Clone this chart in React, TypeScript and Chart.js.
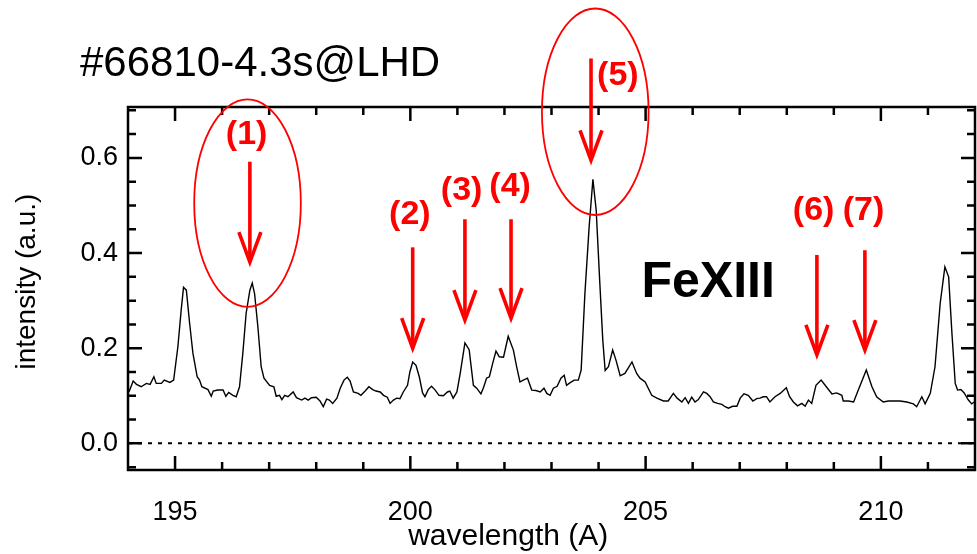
import React, { useEffect, useRef } from "react";
import { Chart, registerables } from "chart.js";

Chart.register(...registerables);

const FONT = "'Liberation Sans', Arial, Helvetica, sans-serif";

const wavelength = [
  194.02, 194.11, 194.18, 194.28, 194.39, 194.47, 194.55, 194.6, 194.71, 194.77, 194.89, 194.97,
  195.06, 195.13, 195.18, 195.24, 195.31, 195.38, 195.47, 195.52, 195.57, 195.7, 195.77, 195.81,
  195.91, 196.02, 196.08, 196.14, 196.23, 196.3, 196.37, 196.44, 196.51, 196.59, 196.64, 196.69,
  196.76, 196.83, 196.89, 197.01, 197.1, 197.15, 197.22, 197.27, 197.33, 197.4, 197.51, 197.58,
  197.69, 197.76, 197.83, 197.9, 198.0, 198.08, 198.15, 198.22, 198.28, 198.35, 198.44, 198.51,
  198.59, 198.66, 198.72, 198.79, 198.89, 198.95, 199.04, 199.12, 199.2, 199.27, 199.36, 199.43,
  199.51, 199.57, 199.64, 199.71, 199.78, 199.85, 199.94, 199.99, 200.05, 200.12, 200.19, 200.26,
  200.31, 200.38, 200.45, 200.52, 200.61, 200.7, 200.79, 200.84, 200.91, 200.99, 201.06, 201.16,
  201.25, 201.34, 201.41, 201.5, 201.55, 201.62, 201.68, 201.75, 201.82, 201.89, 201.98, 202.08,
  202.19, 202.26, 202.33, 202.4, 202.49, 202.58, 202.67, 202.76, 202.84, 202.9, 202.97, 203.04,
  203.12, 203.2, 203.27, 203.32, 203.39, 203.48, 203.57, 203.63, 203.71, 203.8, 203.88, 203.95,
  204.02, 204.09, 204.14, 204.21, 204.3, 204.37, 204.46, 204.56, 204.71, 204.81, 204.88, 204.99,
  205.13, 205.24, 205.38, 205.48, 205.59, 205.67, 205.77, 205.84, 205.91, 205.98, 206.05, 206.12,
  206.23, 206.3, 206.37, 206.44, 206.53, 206.62, 206.69, 206.76, 206.85, 206.94, 207.01, 207.09,
  207.18, 207.28, 207.36, 207.43, 207.5, 207.57, 207.64, 207.75, 207.86, 207.99, 208.06, 208.14,
  208.23, 208.32, 208.39, 208.46, 208.53, 208.62, 208.73, 208.84, 208.96, 209.06, 209.17, 209.2,
  209.31, 209.42, 209.52, 209.69, 209.81, 209.91, 210.05, 210.16, 210.41, 210.55, 210.69, 210.76,
  210.87, 210.94, 211.05, 211.15, 211.26, 211.36, 211.44, 211.51, 211.58, 211.63, 211.7, 211.77,
  211.86, 211.93, 212.0,
];

const intensity = [
  0.108, 0.131, 0.124, 0.119, 0.126, 0.124, 0.14, 0.126, 0.126, 0.133, 0.128, 0.133,
  0.203, 0.28, 0.328, 0.322, 0.252, 0.189, 0.14, 0.133, 0.119, 0.113, 0.099, 0.11,
  0.112, 0.112, 0.099, 0.107, 0.101, 0.098, 0.119, 0.189, 0.273, 0.322, 0.337, 0.315,
  0.245, 0.161, 0.137, 0.122, 0.119, 0.099, 0.101, 0.092, 0.101, 0.098, 0.108, 0.096,
  0.091, 0.095, 0.091, 0.096, 0.097, 0.089, 0.077, 0.093, 0.091, 0.084, 0.095, 0.116,
  0.133, 0.139, 0.131, 0.108, 0.105, 0.101, 0.11, 0.119, 0.113, 0.11, 0.108, 0.101,
  0.097, 0.084, 0.091, 0.095, 0.094, 0.108, 0.122, 0.15, 0.171, 0.164, 0.14, 0.106,
  0.098, 0.113, 0.12, 0.113, 0.101, 0.1, 0.108, 0.11, 0.095, 0.108, 0.147, 0.211,
  0.197, 0.122, 0.116, 0.104, 0.116, 0.137, 0.14, 0.168, 0.194, 0.182, 0.181, 0.225,
  0.196, 0.161, 0.129, 0.133, 0.137, 0.112, 0.111, 0.108, 0.116, 0.105, 0.101, 0.116,
  0.12, 0.137, 0.143, 0.122, 0.127, 0.133, 0.133, 0.154, 0.315, 0.455, 0.555, 0.49,
  0.35, 0.217, 0.153, 0.161, 0.196, 0.175, 0.142, 0.147, 0.171, 0.147, 0.137, 0.129,
  0.101, 0.095, 0.089, 0.089, 0.105, 0.095, 0.087, 0.096, 0.084, 0.097, 0.087, 0.092,
  0.108, 0.105, 0.098, 0.087, 0.084, 0.082, 0.077, 0.074, 0.078, 0.078, 0.095, 0.104,
  0.101, 0.089, 0.094, 0.095, 0.098, 0.098, 0.087, 0.098, 0.105, 0.117, 0.098, 0.087,
  0.079, 0.084, 0.078, 0.091, 0.084, 0.122, 0.133, 0.119, 0.104, 0.106, 0.101, 0.089,
  0.089, 0.087, 0.112, 0.154, 0.119, 0.098, 0.087, 0.089, 0.089, 0.087, 0.083, 0.077,
  0.098, 0.083, 0.105, 0.161, 0.294, 0.371, 0.35, 0.231, 0.126, 0.112, 0.113, 0.106,
  0.091, 0.083, 0.088,
];

const xMin = 194;
const xMax = 212;
const yMin = -0.056;
const yMax = 0.707;

const xMajorTicks = [195, 200, 205, 210];
const xMinorTicks = [196, 197, 198, 199, 201, 202, 203, 204, 206, 207, 208, 209, 211];
const yMajorTicks = [0, 0.2, 0.4, 0.6];
const yMinorTicks = [-0.05, 0.05, 0.1, 0.15, 0.25, 0.3, 0.35, 0.45, 0.5, 0.55, 0.65, 0.7];

const xTitle = "wavelength (A)";
const yTitle = "intensity (a.u.)";
const xTitleAt = 202.08; // wavelength at which the x title is centred
const yTitleAt = 0.34; // intensity at which the y title is centred

const peakLabels = ["(1)", "(2)", "(3)", "(4)", "(5)", "(6)", "(7)"];
const arrowX = [196.59, 200.05, 201.16, 202.14, 203.84, 208.64, 209.66];
const arrowTop = [0.592, 0.412, 0.471, 0.471, 0.809, 0.396, 0.406];
const arrowTip = [0.381, 0.2, 0.259, 0.263, 0.595, 0.186, 0.196];
const labelX = [196.52, 199.99, 201.09, 202.12, 204.41, 208.57, 209.63];
const labelY = [0.648, 0.48, 0.532, 0.539, 0.772, 0.49, 0.49];

const ellipseCx = [196.54, 203.93];
const ellipseCy = [0.505, 0.697];
const ellipseRx = [1.133, 1.133];
const ellipseRy = [0.218, 0.217];

const ionLabel = "FeXIII";
const ionX = 206.33;
const ionY = 0.308;
const shotTitle = "#66810-4.3s@LHD";

const decorPlugin = {
  id: "decor",
  afterDraw(chart: any) {
    const { ctx, chartArea: ca, scales } = chart;
    const x = scales.x;
    const y = scales.y;
    ctx.save();

    // frame
    ctx.strokeStyle = "#000";
    ctx.lineWidth = 2.5;
    ctx.lineCap = "butt";
    ctx.strokeRect(ca.left, ca.top, ca.right - ca.left, ca.bottom - ca.top);

    // inward ticks on all four sides
    const drawX = (v: number, len: number) => {
      const px = x.getPixelForValue(v);
      ctx.beginPath();
      ctx.moveTo(px, ca.bottom);
      ctx.lineTo(px, ca.bottom - len);
      ctx.moveTo(px, ca.top);
      ctx.lineTo(px, ca.top + len);
      ctx.stroke();
    };
    const drawY = (v: number, len: number) => {
      const py = y.getPixelForValue(v);
      ctx.beginPath();
      ctx.moveTo(ca.left, py);
      ctx.lineTo(ca.left + len, py);
      ctx.moveTo(ca.right, py);
      ctx.lineTo(ca.right - len, py);
      ctx.stroke();
    };
    xMajorTicks.forEach((v) => drawX(v, 14));
    xMinorTicks.forEach((v) => drawX(v, 8));
    yMajorTicks.forEach((v) => drawY(v, 14));
    yMinorTicks.forEach((v) => drawY(v, 8));

    // axis titles
    ctx.fillStyle = "#000";
    ctx.font = `30px ${FONT}`;
    ctx.textAlign = "center";
    ctx.textBaseline = "middle";
    ctx.fillText(xTitle, x.getPixelForValue(xTitleAt), ca.bottom + 67);
    ctx.save();
    ctx.translate(27, y.getPixelForValue(yTitleAt));
    ctx.rotate(-Math.PI / 2);
    ctx.font = `28px ${FONT}`;
    ctx.fillText(yTitle, 0, 0);
    ctx.restore();

    // shot title
    ctx.font = `42px ${FONT}`;
    ctx.textAlign = "left";
    ctx.textBaseline = "alphabetic";
    ctx.fillText(shotTitle, ca.left - 48, ca.top - 31);

    // ion label
    ctx.font = `bold 50px ${FONT}`;
    ctx.textAlign = "center";
    ctx.fillText(ionLabel, x.getPixelForValue(ionX), y.getPixelForValue(ionY));

    // ellipses
    ctx.strokeStyle = "#ff0000";
    ctx.lineWidth = 1.8;
    ellipseCx.forEach((cx, i) => {
      const px = x.getPixelForValue(cx);
      const py = y.getPixelForValue(ellipseCy[i]);
      const rx = Math.abs(x.getPixelForValue(cx + ellipseRx[i]) - px);
      const ry = Math.abs(y.getPixelForValue(ellipseCy[i] + ellipseRy[i]) - py);
      ctx.beginPath();
      ctx.ellipse(px, py, rx, ry, 0, 0, Math.PI * 2);
      ctx.stroke();
    });

    // arrows
    ctx.lineWidth = 3.6;
    ctx.lineJoin = "miter";
    arrowX.forEach((ax, i) => {
      const px = x.getPixelForValue(ax);
      const top = y.getPixelForValue(arrowTop[i]);
      const tip = y.getPixelForValue(arrowTip[i]);
      ctx.beginPath();
      ctx.moveTo(px, top);
      ctx.lineTo(px, tip - 2);
      ctx.stroke();
      ctx.beginPath();
      ctx.moveTo(px - 11, tip - 30);
      ctx.lineTo(px, tip);
      ctx.lineTo(px + 11, tip - 30);
      ctx.stroke();
    });

    // peak labels
    ctx.fillStyle = "#ff0000";
    ctx.font = `bold 34px ${FONT}`;
    ctx.textAlign = "center";
    ctx.textBaseline = "middle";
    peakLabels.forEach((t, i) => {
      ctx.fillText(t, x.getPixelForValue(labelX[i]), y.getPixelForValue(labelY[i]));
    });

    ctx.restore();
  },
};

export default function App() {
  const canvasRef = useRef<HTMLCanvasElement | null>(null);

  useEffect(() => {
    document.body.style.margin = "0";
    const canvas = canvasRef.current;
    if (!canvas) return;
    const spectrum = wavelength.map((w, i) => ({ x: w, y: intensity[i] }));
    const zeroLine = [
      { x: xMin, y: 0 },
      { x: xMax, y: 0 },
    ];
    const chart = new Chart(canvas, {
      type: "line",
      data: {
        datasets: [
          {
            data: zeroLine,
            borderColor: "#000",
            borderWidth: 2,
            borderDash: [4, 6],
            pointRadius: 0,
            tension: 0,
          },
          {
            data: spectrum,
            borderColor: "#000",
            borderWidth: 1.4,
            pointRadius: 0,
            tension: 0,
          },
        ],
      },
      options: {
        animation: false,
        responsive: false,
        maintainAspectRatio: false,
        devicePixelRatio: 1,
        layout: { padding: { top: 107, right: 2, left: 0, bottom: 0 } },
        plugins: {
          legend: { display: false },
          tooltip: { enabled: false },
          title: { display: false },
        },
        scales: {
          x: {
            type: "linear",
            min: xMin,
            max: xMax,
            grid: { display: false, drawTicks: false },
            border: { display: false },
            afterBuildTicks: (s: any) => {
              s.ticks = xMajorTicks.map((v) => ({ value: v }));
            },
            afterFit: (s: any) => {
              s.height = 84;
            },
            ticks: {
              color: "#000",
              font: { size: 27, family: FONT },
              padding: 26,
              maxRotation: 0,
              autoSkip: false,
              callback: (v: any) => String(v),
            },
          },
          y: {
            type: "linear",
            min: yMin,
            max: yMax,
            grid: { display: false, drawTicks: false },
            border: { display: false },
            afterBuildTicks: (s: any) => {
              s.ticks = yMajorTicks.map((v) => ({ value: v }));
            },
            afterFit: (s: any) => {
              s.width = 128;
            },
            ticks: {
              color: "#000",
              font: { size: 27, family: FONT },
              padding: 10,
              autoSkip: false,
              callback: (v: any) => Number(v).toFixed(1),
            },
          },
        },
      },
      plugins: [decorPlugin],
    });
    return () => chart.destroy();
  }, []);

  return (
    <div style={{ width: 977, height: 554, background: "#fff" }}>
      <canvas ref={canvasRef} width={977} height={554} style={{ display: "block" }} />
    </div>
  );
}
